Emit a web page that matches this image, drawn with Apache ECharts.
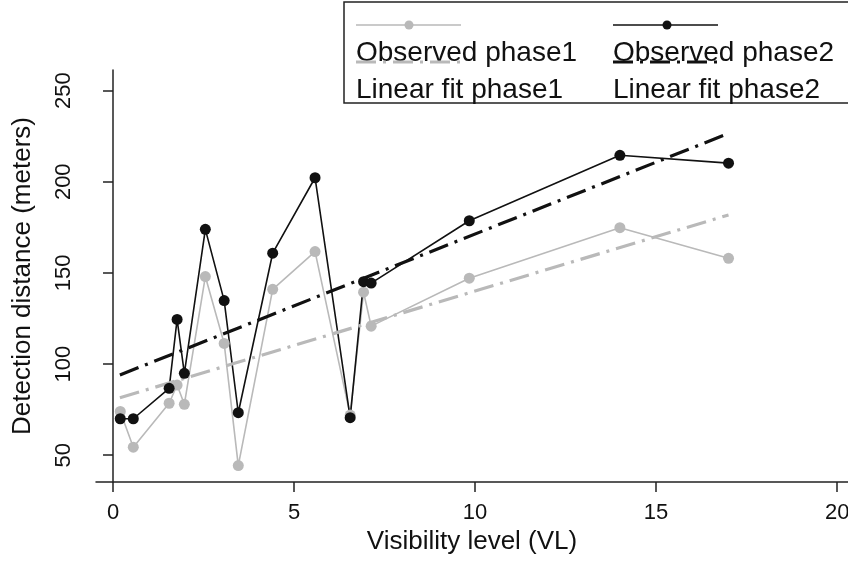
<!DOCTYPE html>
<html>
<head>
<meta charset="utf-8">
<script src="https://cdn.jsdelivr.net/npm/echarts@6/dist/echarts.min.js"></script>
<style>
  html, body { margin: 0; padding: 0; background: #fff; }
  #chart { width: 848px; height: 561px; }
</style>
</head>
<body>
<div id="chart"></div>
<script>
// visibility levels shared by both phases
const visibility = [0.2, 0.56, 1.55, 1.77, 1.97, 2.55, 3.07, 3.46, 4.41, 5.58, 6.55, 6.92, 7.13, 9.84, 14.0, 17.0]
const observedPhase1 = [74, 54.4, 78.5, 88.5, 77.9, 148, 111.3, 44.3, 141, 161.7, 72, 139.4, 120.8, 147.1, 174.8, 158]
const observedPhase2 = [70, 70, 86.7, 124.5, 94.9, 173.9, 134.8, 73.3, 160.8, 202.2, 70.6, 145.2, 144.4, 178.6, 214.5, 210.2]
// fitted line end points
const fitX = [0.19, 17.0]
const fitPhase1 = [81.5, 181.8]
const fitPhase2 = [94, 226.5]
const xTicks = [0, 5, 10, 15, 20]
const yTicks = [50, 100, 150, 200, 250]

const FONT = '"Liberation Sans", Arial, sans-serif'
const GRAY = '#b9b9b9'
const BLACK = '#111111'

const pairs = (xs, ys) => xs.map((x, i) => [x, ys[i]])

const chart = echarts.init(document.getElementById('chart'))

const axisCommon = {
  type: 'value',
  splitLine: { show: false },
  axisLine: { show: true, lineStyle: { color: '#222', width: 1.5 } },
  axisTick: { show: true, length: 10, lineStyle: { color: '#222', width: 1.5 } },
  nameTextStyle: { fontFamily: FONT, fontSize: 26, color: '#111' }
}

const option = {
  animation: false,
  grid: { left: 96, right: 0, top: 70, bottom: 79, outerBoundsMode: 'none' },
  xAxis: {
    ...axisCommon,
    min: -0.47,
    max: 20.3,
    name: 'Visibility level (VL)',
    nameLocation: 'middle',
    nameGap: 46,
    axisTick: { ...axisCommon.axisTick, customValues: xTicks },
    axisLabel: { customValues: xTicks, margin: 20, fontFamily: FONT, fontSize: 22, color: '#111' }
  },
  yAxis: {
    ...axisCommon,
    min: 35.3,
    max: 261.3,
    name: 'Detection distance (meters)',
    nameLocation: 'middle',
    nameGap: 60,
    axisTick: { ...axisCommon.axisTick, customValues: yTicks },
    axisLabel: { customValues: yTicks, rotate: 90, margin: 21, fontFamily: FONT, fontSize: 22, color: '#111', align: 'center', verticalAlign: 'bottom' }
  },
  series: [
    {
      name: 'Observed phase1',
      type: 'line',
      data: pairs(visibility, observedPhase1),
      symbol: 'circle',
      symbolSize: 11,
      itemStyle: { color: GRAY },
      lineStyle: { color: GRAY, width: 1.6 }
    },
    {
      name: 'Observed phase2',
      type: 'line',
      data: pairs(visibility, observedPhase2),
      symbol: 'circle',
      symbolSize: 11,
      itemStyle: { color: BLACK },
      lineStyle: { color: BLACK, width: 1.6 }
    },
    {
      name: 'Linear fit phase1',
      type: 'line',
      data: pairs(fitX, fitPhase1),
      symbol: 'none',
      lineStyle: { color: GRAY, width: 3.2, type: [20, 7, 3, 7] }
    },
    {
      name: 'Linear fit phase2',
      type: 'line',
      data: pairs(fitX, fitPhase2),
      symbol: 'none',
      lineStyle: { color: BLACK, width: 3.2, type: [20, 7, 3, 7] }
    }
  ],
  // Stata-style legend: key samples above / under the labels
  graphic: [
    { type: 'rect', shape: { x: 344, y: 2, width: 520, height: 101 }, style: { fill: '#fff', stroke: '#222', lineWidth: 1.5 } },
    { type: 'line', shape: { x1: 356, y1: 25, x2: 461, y2: 25 }, style: { stroke: GRAY, lineWidth: 1.6 } },
    { type: 'circle', shape: { cx: 409, cy: 25, r: 4.5 }, style: { fill: GRAY } },
    { type: 'line', shape: { x1: 613, y1: 25, x2: 718, y2: 25 }, style: { stroke: BLACK, lineWidth: 1.6 } },
    { type: 'circle', shape: { cx: 667, cy: 25, r: 4.5 }, style: { fill: BLACK } },
    { type: 'text', x: 356, y: 53, style: { text: 'Observed phase1', font: '28px ' + FONT, fill: '#111', textVerticalAlign: 'middle' } },
    { type: 'text', x: 613, y: 53, style: { text: 'Observed phase2', font: '28px ' + FONT, fill: '#111', textVerticalAlign: 'middle' } },
    { type: 'text', x: 356, y: 90, style: { text: 'Linear fit phase1', font: '28px ' + FONT, fill: '#111', textVerticalAlign: 'middle' } },
    { type: 'text', x: 613, y: 90, style: { text: 'Linear fit phase2', font: '28px ' + FONT, fill: '#111', textVerticalAlign: 'middle' } },
    { type: 'line', shape: { x1: 356, y1: 62, x2: 461, y2: 62 }, style: { stroke: GRAY, lineWidth: 3.2, lineDash: [20, 7, 3, 7] } },
    { type: 'line', shape: { x1: 613, y1: 62, x2: 718, y2: 62 }, style: { stroke: BLACK, lineWidth: 3.2, lineDash: [20, 7, 3, 7] } }
  ]
}

chart.setOption(option)
</script>
</body>
</html>
